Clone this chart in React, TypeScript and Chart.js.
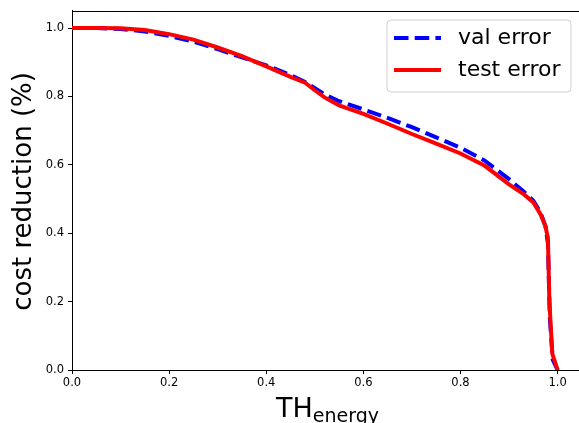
import React, { useEffect, useRef } from "react";
import { Chart, registerables } from "chart.js";

Chart.register(...registerables);

// ---- data ----
const valX = [0, 0.05, 0.1, 0.15, 0.2, 0.25, 0.3, 0.35, 0.4, 0.45, 0.48, 0.5, 0.52, 0.55, 0.6, 0.65, 0.7, 0.75, 0.8, 0.85, 0.9, 0.93, 0.95, 0.965, 0.975, 0.98, 0.984, 0.99, 1.0];
const valY = [1.0, 1.0, 0.997, 0.99, 0.977, 0.96, 0.938, 0.914, 0.891, 0.862, 0.842, 0.824, 0.806, 0.786, 0.762, 0.737, 0.71, 0.68, 0.65, 0.612, 0.558, 0.522, 0.495, 0.46, 0.42, 0.37, 0.15, 0.03, 0.0];
const testX = [0, 0.05, 0.1, 0.15, 0.2, 0.25, 0.3, 0.35, 0.4, 0.45, 0.48, 0.5, 0.52, 0.55, 0.6, 0.65, 0.7, 0.75, 0.8, 0.85, 0.9, 0.93, 0.95, 0.965, 0.975, 0.98, 0.983, 0.989, 1.0];
const testY = [1.0, 1.0, 0.999, 0.994, 0.982, 0.966, 0.943, 0.918, 0.888, 0.857, 0.84, 0.818, 0.797, 0.774, 0.749, 0.72, 0.69, 0.662, 0.633, 0.597, 0.543, 0.514, 0.49, 0.455, 0.42, 0.386, 0.2, 0.048, 0.0];
const xTicks = [0, 0.2, 0.4, 0.6, 0.8, 1.0];
const yTicks = [0, 0.2, 0.4, 0.6, 0.8, 1.0];
const seriesLabels = ["val error", "test error"];
const xTitleMain = "TH";
const xTitleSub = "energy";
const yTitle = "cost reduction (%)";

const FONT = '"DejaVu Sans", sans-serif';

const decorPlugin = {
  id: "decor",
  afterDraw(chart: any) {
    const { ctx, chartArea } = chart;
    const { left, right, top, bottom } = chartArea;
    ctx.save();
    // top spine
    ctx.strokeStyle = "#000";
    ctx.lineWidth = 1;
    ctx.beginPath();
    ctx.moveTo(left, Math.round(top) + 0.5);
    ctx.lineTo(right, Math.round(top) + 0.5);
    ctx.stroke();

    // y title
    ctx.fillStyle = "#000";
    ctx.font = `26px ${FONT}`;
    ctx.textAlign = "center";
    ctx.textBaseline = "middle";
    ctx.translate(24, (top + bottom) / 2 + 1);
    ctx.rotate(-Math.PI / 2);
    ctx.fillText(yTitle, 0, 0);
    ctx.setTransform(1, 0, 0, 1, 0, 0);

    // x title with subscript
    ctx.textAlign = "left";
    ctx.textBaseline = "alphabetic";
    ctx.font = `27px ${FONT}`;
    const wMain = ctx.measureText(xTitleMain).width;
    ctx.font = `19px ${FONT}`;
    const wSub = ctx.measureText(xTitleSub).width;
    const startX = (left + right) / 2 - (wMain + wSub) / 2 + 2;
    ctx.font = `27px ${FONT}`;
    ctx.fillText(xTitleMain, startX, 417);
    ctx.font = `19px ${FONT}`;
    ctx.fillText(xTitleSub, startX + wMain, 422);

    // legend
    const lx = 387, ly = 20, lw = 184, lh = 72, r = 4;
    ctx.beginPath();
    ctx.moveTo(lx + r, ly);
    ctx.lineTo(lx + lw - r, ly);
    ctx.arcTo(lx + lw, ly, lx + lw, ly + r, r);
    ctx.lineTo(lx + lw, ly + lh - r);
    ctx.arcTo(lx + lw, ly + lh, lx + lw - r, ly + lh, r);
    ctx.lineTo(lx + r, ly + lh);
    ctx.arcTo(lx, ly + lh, lx, ly + lh - r, r);
    ctx.lineTo(lx, ly + r);
    ctx.arcTo(lx, ly, lx + r, ly, r);
    ctx.closePath();
    ctx.fillStyle = "rgba(255,255,255,0.8)";
    ctx.fill();
    ctx.strokeStyle = "#d0d0d0";
    ctx.lineWidth = 1;
    ctx.stroke();

    const ds = chart.data.datasets;
    const rows = [38, 70];
    ds.forEach((d: any, i: number) => {
      const y = rows[i];
      ctx.beginPath();
      ctx.strokeStyle = d.borderColor;
      ctx.lineWidth = d.borderWidth;
      ctx.setLineDash(d.borderDash || []);
      ctx.moveTo(394, y);
      ctx.lineTo(441, y);
      ctx.stroke();
      ctx.setLineDash([]);
      ctx.fillStyle = "#000";
      ctx.font = `22px ${FONT}`;
      ctx.textBaseline = "middle";
      ctx.fillText(d.label, 458, y);
    });
    ctx.restore();
  },
};

export default function App() {
  const ref = useRef<HTMLCanvasElement | null>(null);
  useEffect(() => {
    document.body.style.margin = "0";
    const canvas = ref.current!;
    const tickFont = { family: FONT, size: 11.5 };
    const chart = new Chart(canvas, {
      type: "line",
      data: {
        datasets: [
          {
            label: seriesLabels[0],
            data: valX.map((x, i) => ({ x, y: valY[i] })),
            borderColor: "#0000ff",
            backgroundColor: "#0000ff",
            borderWidth: 4,
            borderDash: [14.5, 6.2],
            pointRadius: 0,
            tension: 0,
            fill: false,
            order: 1,
          },
          {
            label: seriesLabels[1],
            data: testX.map((x, i) => ({ x, y: testY[i] })),
            borderColor: "#ff0000",
            backgroundColor: "#ff0000",
            borderWidth: 4,
            pointRadius: 0,
            tension: 0,
            fill: false,
            order: 0,
          },
        ],
      },
      options: {
        animation: false,
        responsive: false,
        devicePixelRatio: 1,
        layout: { padding: { top: 9, right: 0, left: 0, bottom: 0 } },
        plugins: { legend: { display: false }, tooltip: { enabled: false } },
        scales: {
          x: {
            type: "linear",
            min: 0,
            max: 1.044,
            afterBuildTicks: (s: any) => {
              s.ticks = xTicks.map((v) => ({ value: v }));
            },
            afterFit: (s: any) => {
              s.height = 53;
            },
            ticks: {
              font: tickFont,
              color: "#000",
              padding: 2,
              maxRotation: 0,
              callback: (v: any) => Number(v).toFixed(1),
            },
            grid: { display: true, drawOnChartArea: false, drawTicks: true, tickLength: 4, tickColor: "#000" },
            border: { display: true, color: "#000", width: 1 },
          },
          y: {
            type: "linear",
            min: 0,
            max: 1.05,
            afterBuildTicks: (s: any) => {
              s.ticks = yTicks.map((v) => ({ value: v }));
            },
            afterFit: (s: any) => {
              s.width = 72;
            },
            ticks: {
              font: tickFont,
              color: "#000",
              padding: 4,
              callback: (v: any) => Number(v).toFixed(1),
            },
            grid: { display: true, drawOnChartArea: false, drawTicks: true, tickLength: 4, tickColor: "#000" },
            border: { display: true, color: "#000", width: 1 },
          },
        },
      },
      plugins: [decorPlugin],
    } as any);
    return () => chart.destroy();
  }, []);
  return (
    <div style={{ position: "fixed", left: 0, top: 0, width: 579, height: 423, background: "#fff" }}>
      <canvas ref={ref} width={579} height={423} style={{ width: 579, height: 423, display: "block" }} />
    </div>
  );
}
